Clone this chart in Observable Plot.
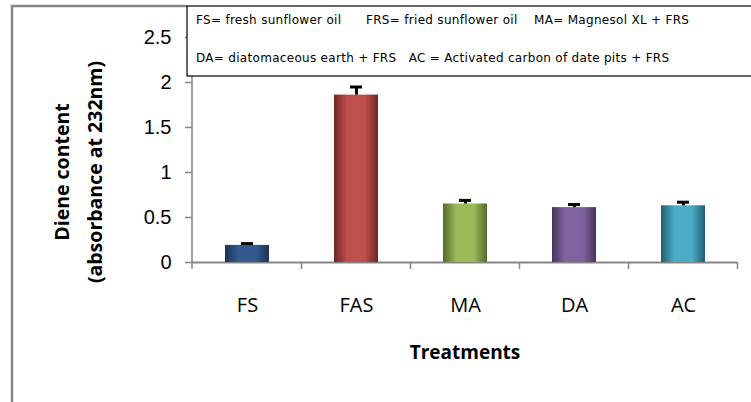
<!DOCTYPE html>
<html><head><meta charset="utf-8">
<script src="https://cdn.jsdelivr.net/npm/d3@7"></script>
<script src="https://cdn.jsdelivr.net/npm/@observablehq/plot@0.6"></script>
<style>
body{margin:0;background:#fff}
#chart{position:relative;width:751px;height:402px;overflow:hidden;background:#fff}
</style>
</head><body><div id="chart"></div>
<script>
const categories = ["FS", "FAS", "MA", "DA", "AC"];
const values = [0.19, 1.86, 0.65, 0.61, 0.63];
const errors = [0.02, 0.09, 0.04, 0.035, 0.04];
const baseColors = ["#335A8E", "#C0504D", "#9BBB59", "#8064A2", "#4BACC6"];
const edgeColors = ["#1C3354", "#6E2624", "#556A2C", "#45345A", "#235F70"];
const yTicks = [0, 0.5, 1, 1.5, 2, 2.5];
const yTickLabels = ["0", "0.5", "1", "1.5", "2", "2.5"];
const xTitle = "Treatments";
const yTitle1 = "Diene content";
const yTitle2 = "(absorbance at 232nm)";
const legendLine1 = "FS= fresh sunflower oil      FRS= fried sunflower oil    MA= Magnesol XL + FRS";
const legendLine2 = "DA= diatomaceous earth + FRS   AC = Activated carbon of date pits + FRS";

const data = categories.map((c, i) => ({cat: c, v: values[i], e: errors[i], fill: `url(#grad${i})`}));
const grey = "#868686";

const plot = Plot.plot({
  width: 751, height: 402,
  marginLeft: 192, marginRight: 14, marginTop: 37, marginBottom: 140,
  style: {background: "white", overflow: "visible", fontFamily: "Liberation Sans, Arial, sans-serif"},
  x: {domain: categories, paddingInner: 0.6, paddingOuter: 0.3, axis: null},
  y: {domain: [0, 2.5], axis: null},
  color: {type: "identity"},
  marks: [
    Plot.ruleY([0], {stroke: grey, strokeWidth: 2}),
    Plot.barY(data, {x: "cat", y: "v", fill: "fill"}),
    Plot.ruleX(data, {x: "cat", y1: "v", y2: d => d.v + d.e, stroke: "#000", strokeWidth: 3}),
    Plot.tickY(data, {x: "cat", y: d => d.v + d.e, stroke: "#000", strokeWidth: 3, insetLeft: 16, insetRight: 16}),
    Plot.axisY({ticks: yTicks, tickFormat: d => yTickLabels[yTicks.indexOf(d)], tickSize: 7, tickPadding: 14,
      fontSize: 20, stroke: grey, fill: "black", strokeWidth: 1.5, fontFamily: "Liberation Sans", label: null}),
    Plot.axisX({tickSize: 0, tickPadding: 35, fontSize: 20, fill: "black", fontFamily: "Open Sans", label: null}),
    Plot.text([xTitle], {frameAnchor: "bottom", dy: 96, fontSize: 19, fontWeight: "bold", fontFamily: "Open Sans", fill: "black"}),
    Plot.text([yTitle1], {frameAnchor: "left", textAnchor: "middle", dx: -130, dy: 22, rotate: -90, fontSize: 19.5, fontWeight: "bold", fontFamily: "Open Sans", fill: "black"}),
    Plot.text([yTitle2], {frameAnchor: "left", textAnchor: "middle", dx: -97, dy: 22, rotate: -90, fontSize: 19.5, fontWeight: "bold", fontFamily: "Open Sans", fill: "black"})
  ]
});

const svg = d3.select(plot);
// gradients for Excel-like shading
const defs = svg.insert("defs", ":first-child");
baseColors.forEach((c, i) => {
  const g = defs.append("linearGradient").attr("id", `grad${i}`).attr("x1", "0").attr("x2", "1").attr("y1", "0").attr("y2", "0");
  g.append("stop").attr("offset", "0%").attr("stop-color", edgeColors[i]);
  g.append("stop").attr("offset", "30%").attr("stop-color", c);
  g.append("stop").attr("offset", "70%").attr("stop-color", c);
  g.append("stop").attr("offset", "100%").attr("stop-color", edgeColors[i]);
});

const sx = plot.scale("x");
const sy = plot.scale("y");
const x0 = sx.range[0];
const gap = (sx.step - sx.bandwidth) / 2;
const y0 = sy.apply(0);
const yTop = sy.apply(2.5);
const axisG = svg.append("g").attr("stroke", grey).attr("stroke-width", 1.5);
axisG.append("line").attr("x1", x0).attr("x2", x0).attr("y1", yTop).attr("y2", y0 + 7);
categories.forEach(c => {
  const b = sx.apply(c) + sx.bandwidth + gap;
  axisG.append("line").attr("x1", b).attr("x2", b).attr("y1", y0).attr("y2", y0 + 7);
});

// outer chart frame
svg.append("path").attr("d", "M12,402V6H187").attr("fill", "none").attr("stroke", grey).attr("stroke-width", 2.5);

// legend box
const lg = svg.append("g").attr("text-anchor", "start");
lg.append("rect").attr("x", 187).attr("y", 6).attr("width", 600).attr("height", 70)
  .attr("fill", "white").attr("stroke", "black").attr("stroke-width", 1.2);
[[legendLine1, 24], [legendLine2, 62]].forEach(([t, y]) => {
  lg.append("text").attr("x", 196).attr("y", y).text(t)
    .attr("font-size", 12).attr("font-family", "DejaVu Sans").attr("letter-spacing", 0.3)
    .attr("fill", "black").attr("text-anchor", "start").style("white-space", "pre");
});

document.getElementById("chart").appendChild(plot);
</script>
</body></html>
